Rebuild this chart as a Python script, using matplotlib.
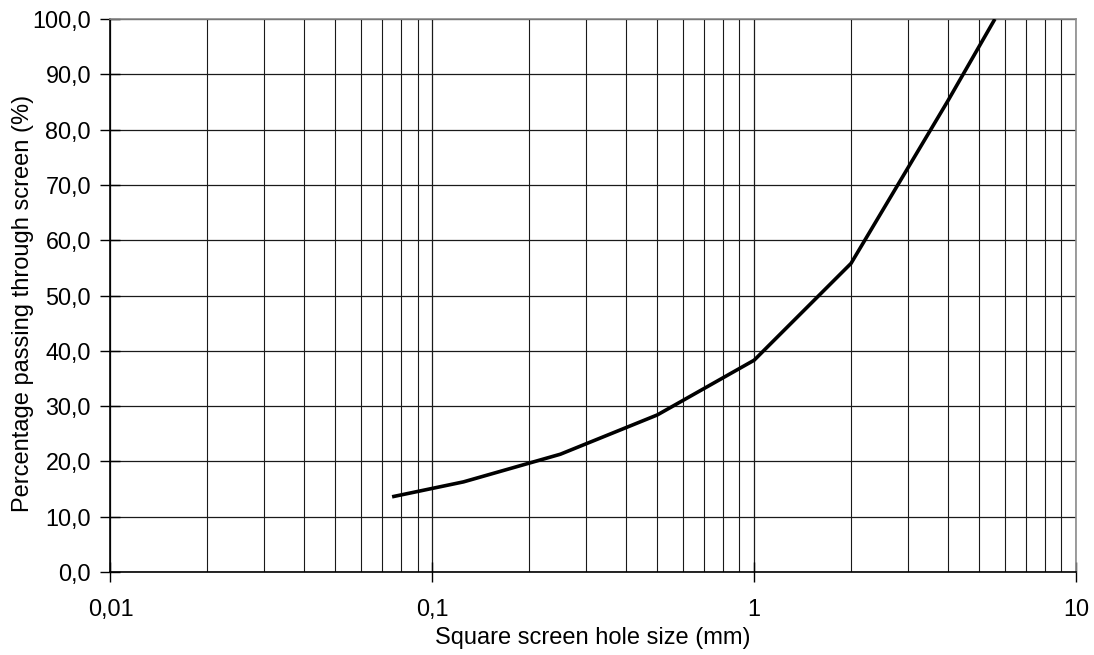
import matplotlib
matplotlib.use("Agg")
import matplotlib.pyplot as plt
from matplotlib.ticker import FixedLocator, FuncFormatter, LogLocator, NullFormatter

plt.rcParams['font.family'] = ['Liberation Sans', 'DejaVu Sans']

# Data
sieve_mm = [0.075, 0.125, 0.25, 0.5, 1.0, 2.0, 4.0, 5.6]
passing_pct = [13.6, 16.3, 21.3, 28.4, 38.3, 55.8, 85.2, 100.0]

x_ticks = [0.01, 0.1, 1, 10]
x_tick_labels = ["0,01", "0,1", "1", "10"]
y_ticks = [0, 10, 20, 30, 40, 50, 60, 70, 80, 90, 100]

fig = plt.figure(figsize=(10.94, 6.55), dpi=100)
ax = fig.add_axes([0.101, 0.1267, 0.8825, 0.8443])

ax.set_xscale('log')
ax.set_xlim(0.01, 10)
ax.set_ylim(0, 100)

ax.xaxis.set_major_locator(FixedLocator(x_ticks))
ax.xaxis.set_minor_locator(LogLocator(base=10, subs=range(2, 10)))
ax.xaxis.set_minor_formatter(NullFormatter())
ax.xaxis.set_major_formatter(FuncFormatter(lambda v, p: x_tick_labels[x_ticks.index(v)] if v in x_ticks else ""))
ax.yaxis.set_major_locator(FixedLocator(y_ticks))
ax.yaxis.set_major_formatter(FuncFormatter(lambda v, p: f"{v:.1f}".replace('.', ',')))

ax.grid(True, which='major', axis='both', color='#1a1a1a', linewidth=0.9)
ax.grid(True, which='minor', axis='x', color='#1a1a1a', linewidth=0.8)
ax.set_axisbelow(True)

ax.plot(sieve_mm, passing_pct, color='black', linewidth=2.6, solid_capstyle='butt', zorder=3)

ax.tick_params(axis='both', which='major', direction='inout', length=14, width=1.0,
               labelsize=16.8, colors='black')
ax.tick_params(axis='y', which='major', pad=7)
ax.tick_params(axis='x', which='major', pad=12)
ax.tick_params(axis='x', which='minor', length=0)

for side in ['top', 'right']:
    ax.spines[side].set_color('#8c8c8c')
    ax.spines[side].set_linewidth(1.2)
for side in ['left', 'bottom']:
    ax.spines[side].set_color('black')
    ax.spines[side].set_linewidth(1.2)

ax.set_xlabel("Square screen hole size (mm)", fontsize=17)
ax.set_ylabel("Percentage passing through screen (%)", fontsize=17)
ax.xaxis.set_label_coords(0.5, -0.100)
ax.yaxis.set_label_coords(-0.079, 0.485)

fig.savefig("out.png", dpi=100)
